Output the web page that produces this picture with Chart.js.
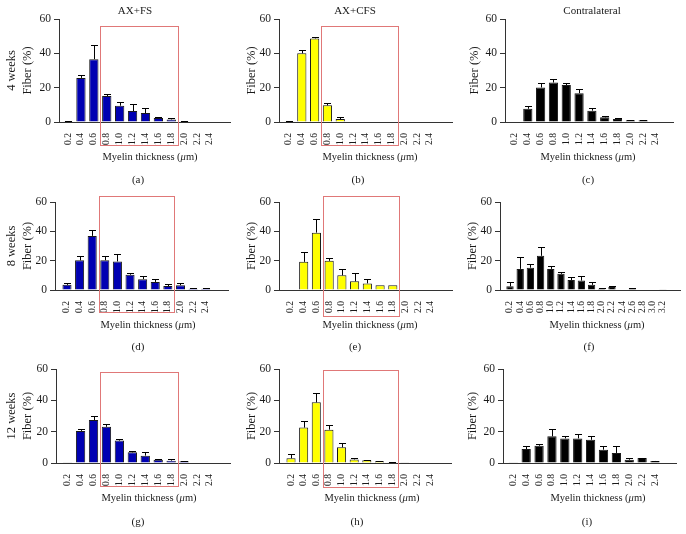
<!DOCTYPE html>
<html>
<head>
<meta charset="utf-8">
<script src="https://cdn.jsdelivr.net/npm/chart.js@4/dist/chart.umd.min.js"></script>
<style>
  html, body { margin: 0; padding: 0; background: #fff; }
  #figure { position: relative; width: 686px; height: 534px; overflow: hidden; background: #fff; }
  #figure canvas { position: absolute; }
</style>
</head>
<body>
<div id="figure"></div>
<script>
(function () {
  'use strict';

  // myelin thickness bins (µm)
  const thicknessBins = ['0.2', '0.4', '0.6', '0.8', '1.0', '1.2', '1.4', '1.6', '1.8', '2.0', '2.2', '2.4'];
  const thicknessBinsLong = ['0.2', '0.4', '0.6', '0.8', '1.0', '1.2', '1.4', '1.6', '1.8', '2.0', '2.2', '2.4', '2.6', '2.8', '3.0', '3.2'];
  const yTicks = [0, 20, 40, 60];

  // fiber (%) per bin, mean and SEM
  const fsWeek4 = [0.5, 25.7, 36.6, 15.1, 9.5, 6.4, 5.2, 2.3, 1.5, 0.5, 0, 0.3];
  const fsWeek4Err = [0.2, 1.6, 8.3, 1.5, 2.1, 4.2, 2.7, 0.8, 0.8, 0.2, 0, 0];
  const cfsWeek4 = [0.5, 40.0, 48.7, 9.7, 1.7, 0.3, 0, 0, 0, 0, 0, 0];
  const cfsWeek4Err = [0.3, 2.2, 0.6, 1.1, 1.0, 0, 0, 0, 0, 0, 0, 0];
  const contraWeek4 = [0, 7.7, 20.1, 23.0, 21.5, 16.8, 6.6, 2.7, 1.7, 1.0, 1.0, 0];
  const contraWeek4Err = [0, 1.7, 2.5, 2.0, 1.5, 2.3, 1.3, 1.0, 0.8, 0.4, 0.4, 0];

  const fsWeek8 = [3.5, 20.2, 36.9, 20.3, 19.5, 10.4, 7.4, 5.5, 2.7, 3.3, 0.9, 0.9];
  const fsWeek8Err = [1.2, 3.3, 4.1, 3.0, 5.0, 1.0, 1.9, 2.0, 1.5, 1.4, 0.2, 0.2];
  const cfsWeek8 = [0, 19.2, 39.1, 19.9, 10.0, 5.9, 4.5, 3.2, 3.2, 0, 0.3, 0];
  const cfsWeek8Err = [0, 7.0, 9.3, 2.0, 4.3, 5.4, 3.2, 0, 0, 0, 0, 0];
  const contraWeek8 = [2.5, 14.4, 15.2, 23.3, 14.4, 11.0, 6.8, 6.4, 3.5, 0.9, 2.0, 0.3, 1.0, 0, 0, 0.5];
  const contraWeek8Err = [2.7, 8.0, 2.5, 5.7, 2.0, 1.3, 2.2, 3.3, 1.9, 0.2, 0.9, 0, 0.3, 0, 0, 0];

  const fsWeek12 = [0.2, 20.5, 27.4, 23.1, 14.3, 6.8, 4.7, 2.1, 1.5, 1.1, 0, 0];
  const fsWeek12Err = [0, 1.5, 2.3, 1.5, 1.1, 0.9, 2.4, 0.4, 0.8, 0.2, 0, 0];
  const cfsWeek12 = [3.0, 22.6, 38.7, 21.3, 10.0, 2.3, 1.7, 1.1, 0.4, 0.4, 0, 0.3];
  const cfsWeek12Err = [2.7, 4.0, 6.2, 3.0, 2.8, 1.1, 0.4, 0.3, 0.2, 0, 0, 0];
  const contraWeek12 = [0.2, 8.9, 11.0, 17.0, 15.7, 15.7, 14.8, 8.5, 6.4, 2.1, 3.2, 1.3];
  const contraWeek12Err = [0, 1.7, 1.1, 4.6, 1.5, 2.7, 2.6, 2.3, 4.2, 1.3, 0.2, 0.2];

  const BLUE = '#0000b2';
  const YELLOW = '#ffff00';
  const BLACK = '#000000';
  const SERIF = '"Liberation Serif", "Times New Roman", serif';
  const INK = '#1a1a1a';

  // page layout of the 3x3 grid
  const rows = [
    { top: 0, height: 190, plotTop: 19, plotBottom: 122, captionY: 157, letterY: 180, headerY: 11 },
    { top: 189, height: 168, plotTop: 202, plotBottom: 290, captionY: 325, letterY: 347 },
    { top: 357, height: 177, plotTop: 369, plotBottom: 463, captionY: 498, letterY: 522 },
  ];
  const cols = [
    { left: 0, width: 240 },
    { left: 226, width: 232 },
    { left: 452, width: 234 },
  ];

  const panels = [
    { letter: '(a)', row: 0, col: 0, bins: thicknessBins, values: fsWeek4, errors: fsWeek4Err, fill: BLUE,
      plotLeft: 59, plotRight: 230, xRange: [-0.70, 12.55], yTitle: ['4 weeks', 'Fiber (%)'], yTitlePad: 4,
      header: 'AX+FS', headerX: 135, captionX: 150, letterX: 138, box: [56, -13.4] },
    { letter: '(b)', row: 0, col: 1, bins: thicknessBins, values: cfsWeek4, errors: cfsWeek4Err, fill: YELLOW,
      plotLeft: 279, plotRight: 452, xRange: [-0.78, 12.72], yTitle: 'Fiber (%)', yTitlePad: 18,
      header: 'AX+CFS', headerX: 355, captionX: 370, letterX: 358, box: [56, -13.4] },
    { letter: '(c)', row: 0, col: 2, bins: thicknessBins, values: contraWeek4, errors: contraWeek4Err, fill: BLACK,
      plotLeft: 505, plotRight: 673, xRange: [-0.78, 12.33], yTitle: 'Fiber (%)', yTitlePad: 15,
      header: 'Contralateral', headerX: 592, captionX: 588, letterX: 588 },
    { letter: '(d)', row: 1, col: 0, bins: thicknessBins, values: fsWeek8, errors: fsWeek8Err, fill: BLUE,
      plotLeft: 55, plotRight: 228, xRange: [-0.95, 12.77], yTitle: ['8 weeks', 'Fiber (%)'], yTitlePad: 4,
      captionX: 148, letterX: 138, box: [64, -15] },
    { letter: '(e)', row: 1, col: 1, bins: thicknessBins, values: cfsWeek8, errors: cfsWeek8Err, fill: YELLOW,
      plotLeft: 279, plotRight: 452, xRange: [-0.94, 12.65], yTitle: 'Fiber (%)', yTitlePad: 18,
      captionX: 370, letterX: 355, box: [64.3, -17.5] },
    { letter: '(f)', row: 1, col: 2, bins: thicknessBinsLong, values: contraWeek8, errors: contraWeek8Err, fill: BLACK,
      plotLeft: 500, plotRight: 680, xRange: [-0.98, 16.67], yTitle: 'Fiber (%)', yTitlePad: 13,
      captionX: 597, letterX: 589 },
    { letter: '(g)', row: 2, col: 0, bins: thicknessBins, values: fsWeek12, errors: fsWeek12Err, fill: BLUE,
      plotLeft: 56, plotRight: 230, xRange: [-0.90, 12.55], yTitle: ['12 weeks', 'Fiber (%)'], yTitlePad: 4,
      captionX: 149, letterX: 138, box: [58.1, -14.7] },
    { letter: '(h)', row: 2, col: 1, bins: thicknessBins, values: cfsWeek12, errors: cfsWeek12Err, fill: YELLOW,
      plotLeft: 279, plotRight: 451, xRange: [-0.95, 12.66], yTitle: 'Fiber (%)', yTitlePad: 18,
      captionX: 372, letterX: 357, box: [59.2, -15.1] },
    { letter: '(i)', row: 2, col: 2, bins: thicknessBins, values: contraWeek12, errors: contraWeek12Err, fill: BLACK,
      plotLeft: 503, plotRight: 676, xRange: [-0.80, 12.63], yTitle: 'Fiber (%)', yTitlePad: 13,
      captionX: 598, letterX: 587 },
  ];

  // upward SEM whiskers with a cap
  const errorBars = {
    id: 'errorBars',
    afterDatasetsDraw(chart, args, opts) {
      const errs = opts.errors || [];
      const yScale = chart.scales.y;
      const meta = chart.getDatasetMeta(0);
      const data = chart.data.datasets[0].data;
      const ctx = chart.ctx;
      ctx.save();
      ctx.strokeStyle = '#000';
      ctx.lineWidth = 1;
      meta.data.forEach((bar, i) => {
        const e = errs[i];
        if (!e) return;
        const v = data[i].y;
        const y0 = yScale.getPixelForValue(v);
        const y1 = Math.round(yScale.getPixelForValue(v + e)) + 0.5;
        const x = Math.round(bar.x) + 0.5;
        ctx.beginPath();
        ctx.moveTo(x, y0);
        ctx.lineTo(x, y1);
        ctx.moveTo(x - 3.5, y1);
        ctx.lineTo(x + 3.5, y1);
        ctx.stroke();
      });
      ctx.restore();
    },
  };

  // red frame around the 0.8-1.8 µm bins
  const highlightBox = {
    id: 'highlightBox',
    afterDraw(chart, args, opts) {
      if (!opts.range) return;
      const { x, y } = chart.scales;
      const ctx = chart.ctx;
      const left = Math.round(x.getPixelForValue(opts.from)) + 0.5;
      const right = Math.round(x.getPixelForValue(opts.to)) + 0.5;
      const top = Math.round(y.getPixelForValue(opts.range[0])) + 0.5;
      const bottom = Math.round(y.getPixelForValue(opts.range[1])) + 0.5;
      ctx.save();
      ctx.strokeStyle = '#e07878';
      ctx.lineWidth = 1;
      ctx.strokeRect(left, top, right - left, bottom - top);
      ctx.restore();
    },
  };

  // column header, x caption with italic mu, panel letter
  const panelText = {
    id: 'panelText',
    afterDraw(chart, args, opts) {
      const ctx = chart.ctx;
      ctx.save();
      ctx.fillStyle = INK;
      ctx.textBaseline = 'middle';
      ctx.textAlign = 'center';
      if (opts.header) {
        ctx.font = '11px ' + SERIF;
        ctx.fillText(opts.header, opts.headerX, opts.headerY);
      }
      ctx.font = '11px ' + SERIF;
      ctx.fillText(opts.letter, opts.letterX, opts.letterY);

      const parts = [['Myelin thickness (', ''], ['\u03bc', 'italic '], ['m)', '']];
      let total = 0;
      parts.forEach((p) => {
        ctx.font = p[1] + '10.5px ' + SERIF;
        total += ctx.measureText(p[0]).width;
      });
      let cx = opts.captionX - total / 2;
      ctx.textAlign = 'left';
      parts.forEach((p) => {
        ctx.font = p[1] + '10.5px ' + SERIF;
        ctx.fillText(p[0], cx, opts.captionY);
        cx += ctx.measureText(p[0]).width;
      });
      ctx.restore();
    },
  };

  const figure = document.getElementById('figure');

  panels.forEach((p) => {
    const row = rows[p.row];
    const col = cols[p.col];
    const canvas = document.createElement('canvas');
    canvas.width = col.width;
    canvas.height = row.height;
    canvas.style.left = col.left + 'px';
    canvas.style.top = row.top + 'px';
    figure.appendChild(canvas);

    const yWidth = p.plotLeft - col.left;
    const xHeight = row.top + row.height - row.plotBottom;
    const bins = p.bins;

    new Chart(canvas.getContext('2d'), {
      type: 'bar',
      data: {
        datasets: [{
          data: p.values.map((v, i) => ({ x: i, y: v })),
          backgroundColor: p.fill,
          borderColor: '#1a1a1a',
          borderWidth: 1,
          borderSkipped: 'start',
          barPercentage: 0.72,
          categoryPercentage: 1,
        }],
      },
      options: {
        responsive: false,
        animation: false,
        events: [],
        layout: {
          padding: { left: 0, right: col.left + col.width - p.plotRight, top: row.plotTop - row.top, bottom: 0 },
        },
        plugins: {
          legend: { display: false },
          tooltip: { enabled: false },
          errorBars: { errors: p.errors },
          highlightBox: {
            range: p.box,
            from: bins.indexOf('0.8') - 0.5,
            to: bins.indexOf('1.8') + 0.5,
          },
          panelText: {
            header: p.header,
            headerX: p.headerX - col.left,
            headerY: (row.headerY || 0) - row.top,
            letter: p.letter,
            letterX: p.letterX - col.left,
            letterY: row.letterY - row.top,
            captionX: p.captionX - col.left,
            captionY: row.captionY - row.top,
          },
        },
        scales: {
          x: {
            type: 'linear',
            offset: false,
            min: p.xRange[0],
            max: p.xRange[1],
            grid: { display: false, offset: false },
            border: { display: true, color: '#333', width: 1 },
            afterBuildTicks: (axis) => {
              axis.ticks = bins.map((_, i) => ({ value: i }));
            },
            afterFit: (axis) => {
              axis.height = xHeight;
            },
            ticks: {
              autoSkip: false,
              minRotation: 90,
              maxRotation: 90,
              padding: 3,
              color: INK,
              font: { family: SERIF, size: 9.5 },
              callback: (v) => bins[v],
            },
          },
          y: {
            min: yTicks[0],
            max: yTicks[yTicks.length - 1],
            afterBuildTicks: (axis) => {
              axis.ticks = yTicks.map((v) => ({ value: v }));
            },
            afterFit: (axis) => {
              axis.width = yWidth;
            },
            grid: { display: true, drawOnChartArea: false, drawTicks: true, tickLength: 5, color: '#333' },
            border: { display: true, color: '#333', width: 1 },
            ticks: {
              padding: 3,
              color: INK,
              font: { family: SERIF, size: 11.5 },
            },
            title: {
              display: true,
              text: p.yTitle,
              color: INK,
              font: { family: SERIF, size: 12.5, lineHeight: 1.28 },
              padding: { top: p.yTitlePad, bottom: 0 },
            },
          },
        },
      },
      plugins: [errorBars, highlightBox, panelText],
    });
  });
})();
</script>
</body>
</html>
